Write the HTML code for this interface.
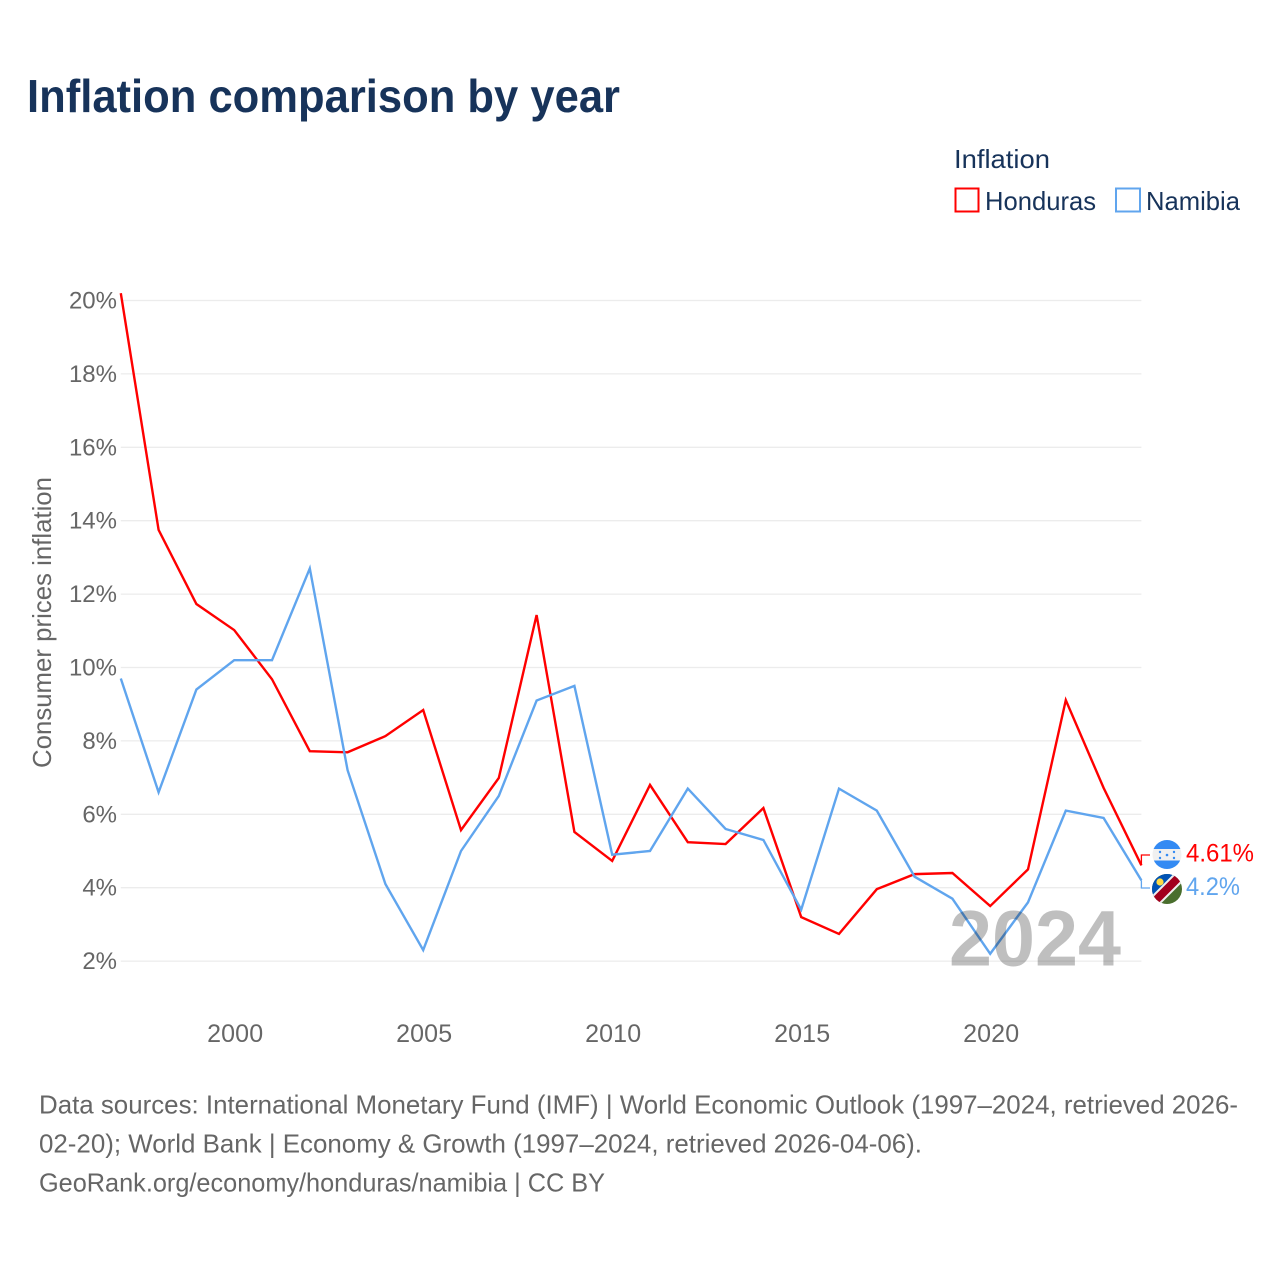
<!DOCTYPE html>
<html lang="en">
<head>
<meta charset="utf-8">
<title>Inflation comparison by year</title>
<style>
html,body{margin:0;padding:0;background:#fff;}
svg{display:block;font-family:"Liberation Sans",sans-serif;}
</style>
</head>
<body>
<svg id="chart" xmlns="http://www.w3.org/2000/svg" width="1280" height="1280" viewBox="0 0 1280 1280">
  <rect width="1280" height="1280" fill="#ffffff"/>
  <text x="27" y="112" font-size="46" font-weight="700" fill="#17335a" textLength="593" lengthAdjust="spacingAndGlyphs">Inflation comparison by year</text>

  <g>
    <text x="954" y="168" font-size="26" fill="#17335a" textLength="96" lengthAdjust="spacingAndGlyphs">Inflation</text>
    <rect x="955.5" y="188.5" width="23" height="23" fill="none" stroke="#ff0000" stroke-width="2"/>
    <text x="985" y="210" font-size="26" fill="#17335a" textLength="111" lengthAdjust="spacingAndGlyphs">Honduras</text>
    <rect x="1116" y="188.5" width="24" height="23" fill="none" stroke="#60a5ee" stroke-width="2"/>
    <text x="1146" y="210" font-size="26" fill="#17335a" textLength="94" lengthAdjust="spacingAndGlyphs">Namibia</text>
  </g>

  <text transform="translate(51,768) rotate(-90)" font-size="26" fill="#666666" textLength="291" lengthAdjust="spacingAndGlyphs">Consumer prices inflation</text>

  <g id="grid"></g>
  <g id="yTicksG"></g>
  <g id="xTicksG"></g>
  <g id="seriesG"></g>

  <defs>
    <clipPath id="flagClipA"><circle cx="1167" cy="854.5" r="14.5"/></clipPath>
    <clipPath id="flagClipB"><circle cx="1167" cy="889" r="15"/></clipPath>
  </defs>

  <g clip-path="url(#flagClipA)">
    <rect x="1152" y="840" width="30" height="30" fill="#f0f0f0"/>
    <rect x="1152" y="838" width="30" height="11" fill="#338af3"/>
    <rect x="1152" y="860.5" width="30" height="10" fill="#338af3"/>
    <circle cx="1167" cy="855" r="1.3" fill="#338af3"/>
    <circle cx="1160" cy="852" r="1.2" fill="#338af3"/>
    <circle cx="1174" cy="852" r="1.2" fill="#338af3"/>
    <circle cx="1160" cy="858" r="1.2" fill="#338af3"/>
    <circle cx="1174" cy="858" r="1.2" fill="#338af3"/>
  </g>
  <g clip-path="url(#flagClipB)">
    <rect x="1152" y="874" width="30" height="30" fill="#496e2d"/>
    <polygon points="1152,874 1182,874 1152,904" fill="#0052b4"/>
    <line x1="1152" y1="904" x2="1182" y2="874" stroke="#f0f0f0" stroke-width="12"/>
    <line x1="1152" y1="904" x2="1182" y2="874" stroke="#a2001d" stroke-width="8"/>
    <circle cx="1160" cy="882" r="3.6" fill="#ffda44"/>
  </g>

  <g id="endLabels"></g>

  <text x="949" y="965.5" font-size="79" font-weight="700" fill="#000000" fill-opacity="0.25" textLength="172" lengthAdjust="spacingAndGlyphs">2024</text>

  <g font-size="26" fill="#666666">
    <text x="39" y="1113.5" textLength="1199" lengthAdjust="spacingAndGlyphs">Data sources: International Monetary Fund (IMF) | World Economic Outlook (1997–2024, retrieved 2026-</text>
    <text x="39" y="1152.5" textLength="883" lengthAdjust="spacingAndGlyphs">02-20); World Bank | Economy &amp; Growth (1997–2024, retrieved 2026-04-06).</text>
    <text x="39" y="1191.5" textLength="566" lengthAdjust="spacingAndGlyphs">GeoRank.org/economy/honduras/namibia | CC BY</text>
  </g>
</svg>
<script>
const years = [1997,1998,1999,2000,2001,2002,2003,2004,2005,2006,2007,2008,2009,2010,2011,2012,2013,2014,2015,2016,2017,2018,2019,2020,2021,2022,2023,2024];
const hondurasValues = [20.2,13.75,11.73,11.02,9.68,7.72,7.69,8.13,8.84,5.57,6.99,11.43,5.52,4.73,6.8,5.24,5.19,6.17,3.2,2.74,3.96,4.37,4.4,3.5,4.5,9.11,6.72,4.61];
const namibiaValues = [9.7,6.6,9.4,10.2,10.2,12.7,7.2,4.1,2.3,5.0,6.5,9.1,9.5,4.9,5.0,6.7,5.6,5.3,3.4,6.7,6.1,4.3,3.7,2.2,3.6,6.1,5.9,4.2];
const yTickValues = [2,4,6,8,10,12,14,16,18,20];
const xTickValues = [2000,2005,2010,2015,2020];

const NS = 'http://www.w3.org/2000/svg';
function xScale(year) { return 120.8 + (year - 1997) * 37.8; }
function yScale(v) { return 300.5 + (20 - v) * 36.7; }

const grid = document.getElementById('grid');
const yG = document.getElementById('yTicksG');
const xG = document.getElementById('xTicksG');
const seriesG = document.getElementById('seriesG');
const endG = document.getElementById('endLabels');

yTickValues.forEach(function (v) {
  const line = document.createElementNS(NS, 'line');
  
  
  line.setAttribute('x1', xScale(1997));
  line.setAttribute('x2', xScale(2024));
  line.setAttribute('y1', yScale(v));
  line.setAttribute('y2', yScale(v));
  line.setAttribute('stroke', '#ececec');
  line.setAttribute('stroke-width', '1.3');
  grid.appendChild(line);

  const t = document.createElementNS(NS, 'text');
  
  
  t.setAttribute('x', 117);
  t.setAttribute('y', yScale(v) + 8);
  t.setAttribute('text-anchor', 'end');
  t.setAttribute('font-size', '24');
  t.setAttribute('fill', '#666666');
  t.textContent = v + '%';
  yG.appendChild(t);
});

xTickValues.forEach(function (year) {
  const t = document.createElementNS(NS, 'text');
  
  
  t.setAttribute('x', xScale(year) + 1);
  t.setAttribute('y', 1042);
  t.setAttribute('text-anchor', 'middle');
  t.setAttribute('font-size', '25');
  t.setAttribute('letter-spacing', '0.15');
  t.setAttribute('fill', '#666666');
  t.textContent = String(year);
  xG.appendChild(t);
});

function linePath(values) {
  return values.map(function (v, i) {
    return (i ? 'L' : 'M') + xScale(years[i]).toFixed(2) + ' ' + yScale(v).toFixed(2);
  }).join(' ');
}

const hondurasLine = document.createElementNS(NS, 'path');


hondurasLine.setAttribute('d', linePath(hondurasValues));
hondurasLine.setAttribute('fill', 'none');
hondurasLine.setAttribute('stroke', '#ff0000');
hondurasLine.setAttribute('stroke-width', '2.4');
hondurasLine.setAttribute('stroke-linejoin', 'miter');
seriesG.appendChild(hondurasLine);

const namibiaLine = document.createElementNS(NS, 'path');


namibiaLine.setAttribute('d', linePath(namibiaValues));
namibiaLine.setAttribute('fill', 'none');
namibiaLine.setAttribute('stroke', '#60a5ee');
namibiaLine.setAttribute('stroke-width', '2.4');
namibiaLine.setAttribute('stroke-linejoin', 'miter');
seriesG.appendChild(namibiaLine);

const hEnd = hondurasValues[hondurasValues.length - 1];
const nEnd = namibiaValues[namibiaValues.length - 1];
const endX = xScale(years[years.length - 1]);

const hConn = document.createElementNS(NS, 'path');


hConn.setAttribute('d', 'M' + endX + ' ' + yScale(hEnd) + ' V855 H1150');
hConn.setAttribute('fill', 'none');
hConn.setAttribute('stroke', '#ff0000');
hConn.setAttribute('stroke-width', '1.3');
endG.appendChild(hConn);

const nConn = document.createElementNS(NS, 'path');


nConn.setAttribute('d', 'M' + endX + ' ' + yScale(nEnd) + ' V888 H1150');
nConn.setAttribute('fill', 'none');
nConn.setAttribute('stroke', '#60a5ee');
nConn.setAttribute('stroke-width', '1.3');
endG.appendChild(nConn);

const hLabel = document.createElementNS(NS, 'text');


hLabel.setAttribute('x', 1186);
hLabel.setAttribute('y', 861.5);
hLabel.setAttribute('font-size', '25');
hLabel.setAttribute('fill', '#ff0000');
hLabel.setAttribute('textLength', '68');
hLabel.setAttribute('lengthAdjust', 'spacingAndGlyphs');
hLabel.textContent = hEnd + '%';
endG.appendChild(hLabel);

const nLabel = document.createElementNS(NS, 'text');


nLabel.setAttribute('x', 1186);
nLabel.setAttribute('y', 895);
nLabel.setAttribute('font-size', '25');
nLabel.setAttribute('fill', '#60a5ee');
nLabel.setAttribute('textLength', '54');
nLabel.setAttribute('lengthAdjust', 'spacingAndGlyphs');
nLabel.textContent = nEnd + '%';
endG.appendChild(nLabel);
</script>
</body>
</html>
